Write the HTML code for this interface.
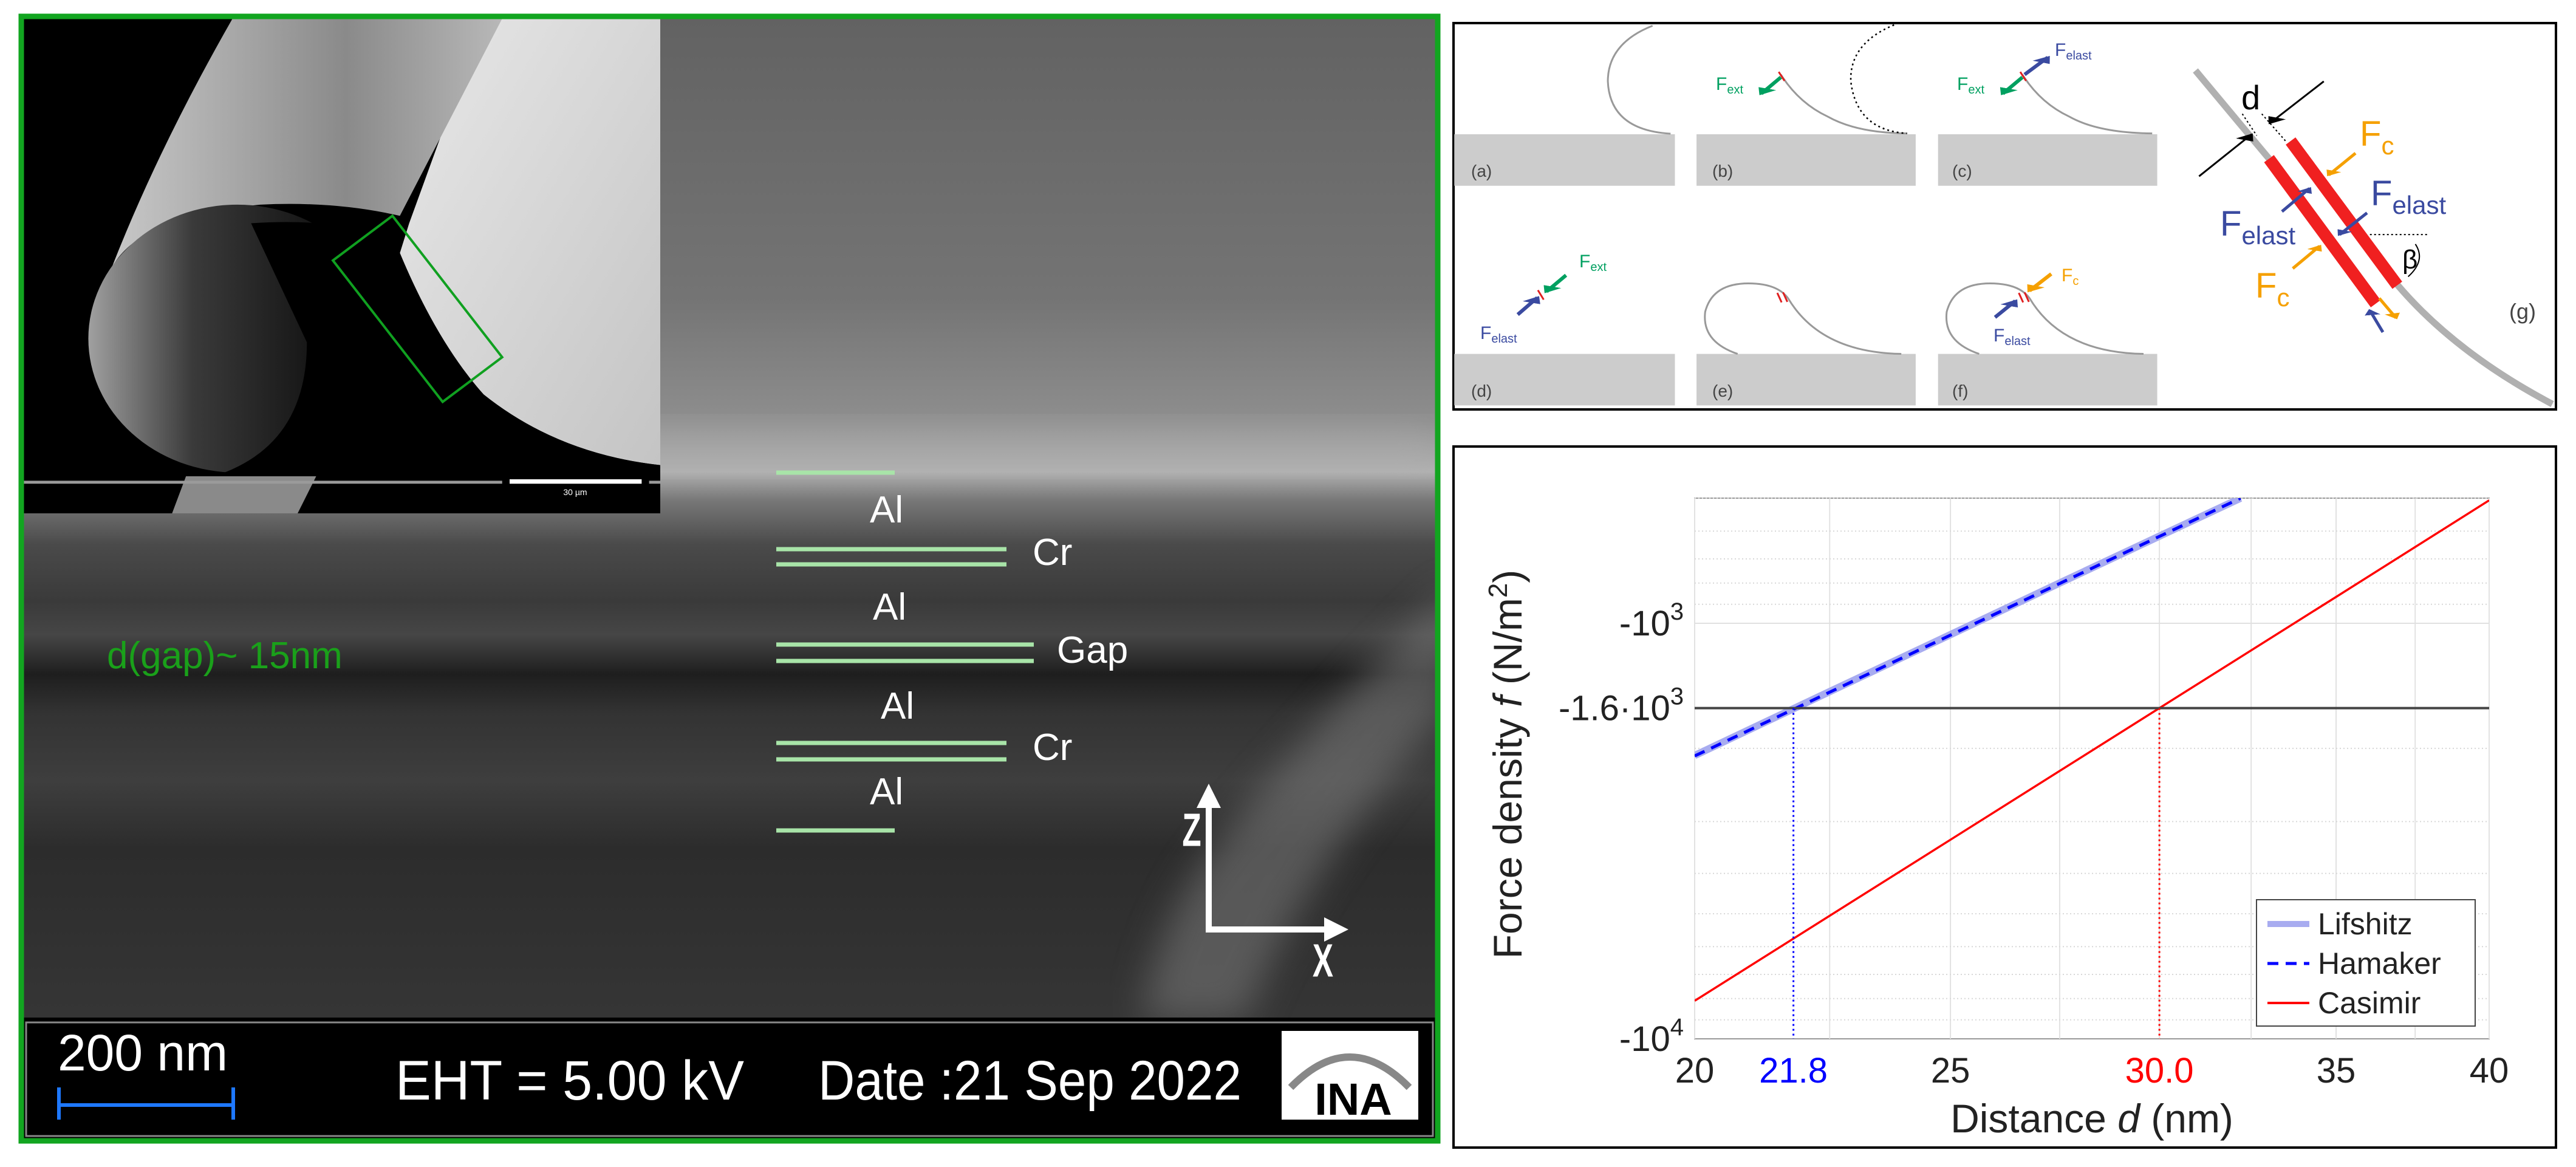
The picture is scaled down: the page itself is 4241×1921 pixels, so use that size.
<!DOCTYPE html>
<html><head><meta charset="utf-8">
<style>
html,body{margin:0;padding:0;background:#fff;}
svg{display:block;}
text{font-family:"Liberation Sans",sans-serif;}
</style></head>
<body>
<svg id="root" width="4241" height="1921" viewBox="0 0 4241 1921" xmlns="http://www.w3.org/2000/svg">
<defs>
  <linearGradient id="semBg" x1="0" y1="0" x2="0" y2="1">
    <stop offset="0" stop-color="#626262"/>
    <stop offset="0.25" stop-color="#747474"/>
    <stop offset="0.36" stop-color="#8e8e8e"/>
    <stop offset="0.405" stop-color="#b0b0b0"/>
    <stop offset="0.43" stop-color="#787878"/>
    <stop offset="0.47" stop-color="#4a4a4a"/>
    <stop offset="0.52" stop-color="#3a3a3a"/>
    <stop offset="0.55" stop-color="#464646"/>
    <stop offset="0.585" stop-color="#1e1e1e"/>
    <stop offset="0.62" stop-color="#333"/>
    <stop offset="0.68" stop-color="#3e3e3e"/>
    <stop offset="0.74" stop-color="#2c2c2c"/>
    <stop offset="1" stop-color="#3c3c3c"/>
  </linearGradient>
  <linearGradient id="rollRim" x1="0" y1="0" x2="1" y2="0">
    <stop offset="0" stop-color="#a0a0a0"/>
    <stop offset="0.35" stop-color="#3a3a3a"/>
    <stop offset="1" stop-color="#000"/>
  </linearGradient>
  <linearGradient id="sheetTop" x1="0" y1="0" x2="1" y2="0">
    <stop offset="0" stop-color="#c8c8c8"/>
    <stop offset="0.6" stop-color="#8a8a8a"/>
    <stop offset="1" stop-color="#b8b8b8"/>
  </linearGradient>
  <linearGradient id="sheetRight" x1="0" y1="0" x2="1" y2="1">
    <stop offset="0" stop-color="#e8e8e8"/>
    <stop offset="1" stop-color="#c4c4c4"/>
  </linearGradient>
  <filter id="blur30"><feGaussianBlur stdDeviation="30"/></filter>
  <marker id="ahBlack" markerWidth="8" markerHeight="8" refX="7" refY="4" orient="auto" markerUnits="strokeWidth"><path d="M0,0 L8,4 L0,8 z" fill="#000"/></marker>
  <marker id="ahGreen" markerWidth="4" markerHeight="4" refX="3" refY="2" orient="auto" markerUnits="strokeWidth"><path d="M0,0 L4,2 L0,4 z" fill="#00a060"/></marker>
  <marker id="ahBlue" markerWidth="4" markerHeight="4" refX="3" refY="2" orient="auto" markerUnits="strokeWidth"><path d="M0,0 L4,2 L0,4 z" fill="#3a4aa0"/></marker>
  <marker id="ahOrange" markerWidth="4" markerHeight="4" refX="3" refY="2" orient="auto" markerUnits="strokeWidth"><path d="M0,0 L4,2 L0,4 z" fill="#f5a000"/></marker>
  <marker id="ahWhite" markerWidth="4" markerHeight="4" refX="3" refY="2" orient="auto" markerUnits="strokeWidth"><path d="M0,0 L4,2 L0,4 z" fill="#fff"/></marker>
  <clipPath id="plotClip"><rect x="2790" y="820" width="1308" height="890"/></clipPath>
  <clipPath id="insetClip"><rect x="38" y="31" width="1049" height="814"/></clipPath>
  <clipPath id="semClip"><rect x="35" y="27" width="2332" height="1851"/></clipPath>
</defs>

<!-- ============ LEFT SEM PANEL ============ -->
<g>
  <rect x="35" y="27" width="2332" height="1851" fill="url(#semBg)"/>
  <g clip-path="url(#semClip)">
    <path d="M2400,960 Q2150,1200 1980,1420 Q1900,1540 1880,1680 L2050,1680 Q2150,1420 2400,1150 Z" fill="#7a7a7a" opacity="0.55" filter="url(#blur30)"/>
    <rect x="35" y="690" width="2332" height="90" fill="#b8b8b8" opacity="0.25" filter="url(#blur30)"/>
  </g>

  <!-- inset -->
  <g clip-path="url(#insetClip)">
    <rect x="38" y="31" width="1049" height="814" fill="#000"/>
    <g transform="scale(1.531,1.225)">
      <path d="M520,25 L710,25 L710,625 Q600,610 520,530 Q470,460 430,340 L440,300 Z" fill="url(#sheetRight)"/>
      <path d="M250,25 L540,25 L430,290 Q360,270 280,275 Q150,290 120,360 Q170,200 250,25 Z" fill="url(#sheetTop)"/>
      <ellipse cx="255" cy="455" rx="160" ry="180" fill="url(#rollRim)"/>
      <path d="M270,300 Q390,290 430,340 Q470,460 520,530 Q600,610 710,625 L710,690 L25,690 L25,600 Q150,640 230,640 Q330,600 330,460 Z" fill="#000"/>
      <path d="M200,640 L340,640 L320,690 L185,690 Z" fill="#8a8a8a"/>
      <rect x="25" y="646" width="685" height="4" fill="#9a9a9a"/>
      <rect x="540" y="636" width="158" height="37" fill="#000"/>
      <rect x="548" y="644" width="142" height="6" fill="#fff"/>
      <path d="M358,350 L422,290 L540,480 L476,540 Z" fill="none" stroke="#10a020" stroke-width="4" vector-effect="non-scaling-stroke"/>
    </g>
    <text x="947" y="815" font-size="14" fill="#fff" text-anchor="middle">30 µm</text>
  </g>

  <!-- layer lines -->
  <g stroke="#a8e4a8" stroke-width="7">
    <line x1="1278" y1="778" x2="1473" y2="778"/>
    <line x1="1278" y1="904" x2="1657" y2="904"/>
    <line x1="1278" y1="929" x2="1657" y2="929"/>
    <line x1="1278" y1="1061" x2="1702" y2="1061"/>
    <line x1="1278" y1="1088" x2="1702" y2="1088"/>
    <line x1="1278" y1="1223" x2="1657" y2="1223"/>
    <line x1="1278" y1="1250" x2="1657" y2="1250"/>
    <line x1="1278" y1="1367" x2="1473" y2="1367"/>
  </g>
  <g fill="#fff" font-size="62">
    <text x="1432" y="860">Al</text>
    <text x="1700" y="930">Cr</text>
    <text x="1437" y="1020">Al</text>
    <text x="1740" y="1091">Gap</text>
    <text x="1450" y="1183">Al</text>
    <text x="1700" y="1251">Cr</text>
    <text x="1432" y="1324">Al</text>
  </g>
  <text x="176" y="1100" font-size="62" fill="#1aa01a">d(gap)~ 15nm</text>

  <!-- axes glyph -->
  <g>
    <line x1="1990" y1="1531" x2="1990" y2="1300" stroke="#fff" stroke-width="10" marker-end="url(#ahWhite)"/>
    <line x1="1985" y1="1530" x2="2210" y2="1530" stroke="#fff" stroke-width="10" marker-end="url(#ahWhite)"/>
    <text x="1962" y="1388" font-size="64" fill="#fff" text-anchor="middle" font-weight="bold" transform="translate(1962,1366) scale(0.8,1.2) translate(-1962,-1366)">Z</text>
    <text x="2178" y="1603" font-size="64" fill="#fff" text-anchor="middle" font-weight="bold" transform="translate(2178,1580) scale(0.8,1.2) translate(-2178,-1580)">X</text>
  </g>

  <!-- info bar -->
  <g>
    <rect x="35" y="1675" width="2332" height="203" fill="#000"/>
    <rect x="43" y="1683" width="2316" height="187" fill="none" stroke="#888" stroke-width="3"/>
    <text x="95" y="1762" font-size="84" fill="#fff" textLength="280" lengthAdjust="spacingAndGlyphs">200 nm</text>
    <g stroke="#1e78ff" stroke-width="6">
      <line x1="95" y1="1819" x2="386" y2="1819"/>
      <line x1="97" y1="1790" x2="97" y2="1843"/>
      <line x1="384" y1="1790" x2="384" y2="1843"/>
    </g>
    <text x="651" y="1810" font-size="92" fill="#fff" textLength="574" lengthAdjust="spacingAndGlyphs">EHT =  5.00 kV</text>
    <text x="1347" y="1810" font-size="92" fill="#fff" textLength="697" lengthAdjust="spacingAndGlyphs">Date :21 Sep 2022</text>
    <g>
      <rect x="2110" y="1697" width="225" height="146" fill="#fff"/>
      <path d="M2125,1790 Q2222,1690 2320,1790" fill="none" stroke="#888" stroke-width="12"/>
      <text x="2228" y="1835" font-size="74" font-weight="bold" fill="#000" text-anchor="middle">INA</text>
    </g>
  </g>
  <rect x="35" y="27" width="2332" height="1851" fill="none" stroke="#12a520" stroke-width="9"/>
</g>

<!-- ============ TOP RIGHT SCHEMATIC ============ -->
<g>
  <rect x="2393" y="38" width="1815" height="636" fill="#fff" stroke="#000" stroke-width="4"/>
  <g transform="translate(2380,0) scale(1.187,0.4464)">
    <g fill="#cccccc">
      <rect x="12" y="495" width="306" height="190"/>
      <rect x="348" y="495" width="304" height="190"/>
      <rect x="683" y="495" width="304" height="190"/>
      <rect x="12" y="1305" width="306" height="190"/>
      <rect x="348" y="1305" width="304" height="190"/>
      <rect x="683" y="1305" width="304" height="190"/>
    </g>
    <g fill="none" stroke="#999" stroke-width="3">
      <path vector-effect="non-scaling-stroke" d="M287,95 Q225,160 225,300 Q228,480 312,493"/>
      <path vector-effect="non-scaling-stroke" d="M465,275 Q490,380 530,430 Q570,490 640,492"/>
      <path vector-effect="non-scaling-stroke" d="M800,275 Q825,380 865,430 Q905,490 980,492"/>
      <path vector-effect="non-scaling-stroke" d="M405,1305 Q355,1260 360,1150 Q370,1045 420,1045 Q460,1045 475,1100 Q520,1300 632,1305"/>
      <path vector-effect="non-scaling-stroke" d="M740,1305 Q690,1260 695,1150 Q705,1045 755,1045 Q795,1045 810,1100 Q855,1300 968,1305"/>
    </g>
    <path vector-effect="non-scaling-stroke" d="M622,92 Q560,160 562,300 Q570,480 640,492" fill="none" stroke="#000" stroke-width="2.5" stroke-dasharray="3 5"/>
    <g stroke="#e02020" stroke-width="3">
      <line vector-effect="non-scaling-stroke" x1="462" y1="265" x2="470" y2="298"/>
      <line vector-effect="non-scaling-stroke" x1="797" y1="265" x2="805" y2="298"/>
      <line vector-effect="non-scaling-stroke" x1="128" y1="1070" x2="136" y2="1105"/>
      <line vector-effect="non-scaling-stroke" x1="460" y1="1080" x2="466" y2="1115"/>
      <line vector-effect="non-scaling-stroke" x1="468" y1="1078" x2="474" y2="1113"/>
      <line vector-effect="non-scaling-stroke" x1="795" y1="1080" x2="801" y2="1115"/>
      <line vector-effect="non-scaling-stroke" x1="803" y1="1078" x2="809" y2="1113"/>
    </g>
    <g stroke-width="6">
      <line vector-effect="non-scaling-stroke" x1="465" y1="285" x2="438" y2="345" stroke="#00a060" marker-end="url(#ahGreen)"/>
      <line vector-effect="non-scaling-stroke" x1="800" y1="285" x2="773" y2="345" stroke="#00a060" marker-end="url(#ahGreen)"/>
      <line vector-effect="non-scaling-stroke" x1="803" y1="275" x2="835" y2="212" stroke="#3a4aa0" marker-end="url(#ahBlue)"/>
      <line vector-effect="non-scaling-stroke" x1="167" y1="1015" x2="140" y2="1075" stroke="#00a060" marker-end="url(#ahGreen)"/>
      <line vector-effect="non-scaling-stroke" x1="100" y1="1160" x2="127" y2="1098" stroke="#3a4aa0" marker-end="url(#ahBlue)"/>
      <line vector-effect="non-scaling-stroke" x1="840" y1="1010" x2="810" y2="1072" stroke="#f5a000" marker-end="url(#ahOrange)"/>
      <line vector-effect="non-scaling-stroke" x1="762" y1="1170" x2="790" y2="1110" stroke="#3a4aa0" marker-end="url(#ahBlue)"/>
    </g>
    <g>
      <path vector-effect="non-scaling-stroke" d="M1040,260 L1142,585" stroke="#b0b0b0" stroke-width="11" fill="none"/>
      <path vector-effect="non-scaling-stroke" d="M1320,1050 Q1400,1300 1535,1490" stroke="#b0b0b0" stroke-width="11" fill="none"/>
      <line vector-effect="non-scaling-stroke" x1="1142" y1="585" x2="1290" y2="1120" stroke="#f02020" stroke-width="20"/>
      <line vector-effect="non-scaling-stroke" x1="1172" y1="520" x2="1320" y2="1052" stroke="#f02020" stroke-width="20"/>
      <line vector-effect="non-scaling-stroke" x1="1105" y1="420" x2="1125" y2="500" stroke="#000" stroke-width="2" stroke-dasharray="3 4"/>
      <line vector-effect="non-scaling-stroke" x1="1132" y1="420" x2="1165" y2="520" stroke="#000" stroke-width="2" stroke-dasharray="3 4"/>
      <line vector-effect="non-scaling-stroke" x1="1045" y1="650" x2="1118" y2="495" stroke="#000" stroke-width="3" marker-end="url(#ahBlack)"/>
      <line vector-effect="non-scaling-stroke" x1="1218" y1="300" x2="1143" y2="455" stroke="#000" stroke-width="3" marker-end="url(#ahBlack)"/>
      <line vector-effect="non-scaling-stroke" x1="1262" y1="565" x2="1225" y2="645" stroke="#f5a000" stroke-width="5" marker-end="url(#ahOrange)"/>
      <line vector-effect="non-scaling-stroke" x1="1160" y1="780" x2="1198" y2="695" stroke="#3a4aa0" stroke-width="5" marker-end="url(#ahBlue)"/>
      <line vector-effect="non-scaling-stroke" x1="1278" y1="785" x2="1240" y2="865" stroke="#3a4aa0" stroke-width="5" marker-end="url(#ahBlue)"/>
      <line vector-effect="non-scaling-stroke" x1="1175" y1="990" x2="1212" y2="908" stroke="#f5a000" stroke-width="5" marker-end="url(#ahOrange)"/>
      <line vector-effect="non-scaling-stroke" x1="1300" y1="1225" x2="1282" y2="1145" stroke="#3a4aa0" stroke-width="5" marker-end="url(#ahBlue)"/>
      <line vector-effect="non-scaling-stroke" x1="1295" y1="1100" x2="1318" y2="1172" stroke="#f5a000" stroke-width="5" marker-end="url(#ahOrange)"/>
      <line vector-effect="non-scaling-stroke" x1="1282" y1="865" x2="1362" y2="865" stroke="#000" stroke-width="2" stroke-dasharray="3 4"/>
      <path vector-effect="non-scaling-stroke" d="M1345,900 Q1360,960 1335,1020" fill="none" stroke="#000" stroke-width="2"/>
    </g>
  </g>
  <g font-size="28" fill="#444">
    <text x="2422" y="291">(a)</text>
    <text x="2819" y="291">(b)</text>
    <text x="3214" y="291">(c)</text>
    <text x="2422" y="653">(d)</text>
    <text x="2819" y="653">(e)</text>
    <text x="3214" y="653">(f)</text>
    <text x="4131" y="525" font-size="36">(g)</text>
  </g>
  <g font-size="30">
    <text x="2825" y="148" fill="#00a060">F<tspan font-size="20" dy="6">ext</tspan></text>
    <text x="3222" y="148" fill="#00a060">F<tspan font-size="20" dy="6">ext</tspan></text>
    <text x="3383" y="92" fill="#3a4aa0">F<tspan font-size="20" dy="6">elast</tspan></text>
    <text x="2600" y="440" fill="#00a060">F<tspan font-size="20" dy="6">ext</tspan></text>
    <text x="2437" y="558" fill="#3a4aa0">F<tspan font-size="20" dy="6">elast</tspan></text>
    <text x="3394" y="463" fill="#f5a000">F<tspan font-size="20" dy="6">c</tspan></text>
    <text x="3282" y="562" fill="#3a4aa0">F<tspan font-size="20" dy="6">elast</tspan></text>
    <text x="3690" y="180" font-size="56" fill="#000">d</text>
    <text x="3885" y="240" font-size="58" fill="#f5a000">F<tspan font-size="42" dy="14">c</tspan></text>
    <text x="3655" y="388" font-size="58" fill="#3a4aa0">F<tspan font-size="42" dy="14">elast</tspan></text>
    <text x="3903" y="338" font-size="58" fill="#3a4aa0">F<tspan font-size="42" dy="14">elast</tspan></text>
    <text x="3713" y="490" font-size="58" fill="#f5a000">F<tspan font-size="42" dy="14">c</tspan></text>
    <text x="3955" y="442" font-size="44" fill="#000">β</text>
  </g>
</g>

<!-- ============ BOTTOM RIGHT CHART ============ -->
<g id="chart">
  <rect x="2393" y="735" width="1815" height="1154" fill="#fff" stroke="#000" stroke-width="4"/>
  <rect x="2790" y="820" width="1308" height="890" fill="#fff" stroke="#999" stroke-width="2"/>
  <g id="grid"></g>
  <g id="series" clip-path="url(#plotClip)"></g>
  <g id="xticks"></g>
  <g id="yticks"></g>
  <text x="3444" y="1864" font-size="66" fill="#222" text-anchor="middle" font-family="DejaVu Sans, sans-serif">Distance  <tspan font-style="italic">d</tspan> (nm)</text>
  <text transform="translate(2505,1258) rotate(-90)" font-size="66" fill="#222" text-anchor="middle" font-family="DejaVu Sans, sans-serif">Force density  <tspan font-style="italic">f</tspan> (N/m<tspan font-size="44" dy="-24">2</tspan><tspan dy="24">)</tspan></text>
  <g>
    <rect x="3715" y="1481" width="360" height="208" fill="#fff" stroke="#444" stroke-width="2"/>
    <line x1="3733" y1="1521" x2="3802" y2="1521" stroke="#a8acf0" stroke-width="10"/>
    <text x="3816" y="1538" font-size="50" fill="#222">Lifshitz</text>
    <line x1="3733" y1="1586" x2="3802" y2="1586" stroke="#0000ff" stroke-width="5" stroke-dasharray="18 12"/>
    <text x="3816" y="1603" font-size="50" fill="#222">Hamaker</text>
    <line x1="3733" y1="1651" x2="3802" y2="1651" stroke="#ff0000" stroke-width="4"/>
    <text x="3816" y="1668" font-size="50" fill="#222">Casimir</text>
  </g>
</g>

<script>
// ---- chart data ----
const hamakerD = [20, 22.5, 25, 27.5, 30, 32.2];
const hamakerF = [-2086, -1465, -1068, -802, -618, -500];
const lifshitzD = [20, 22.5, 25, 27.5, 30, 32.2];
const lifshitzF = [-2080, -1460, -1065, -800, -617, -500];
const casimirD = [20, 25, 30, 35, 40];
const casimirF = [-8100, -3318, -1600, -864, -506];
const thresholdF = -1600;
const crossD = [21.8, 30.0];
const crossLabels = ["21.8", "30.0"];
const crossColors = ["#0000ff", "#ff0000"];
const xTickVals = [20, 25, 35, 40];
const xTickLabels = ["20", "25", "35", "40"];
const xGridVals = [20, 22.5, 25, 27.5, 30, 32.5, 35, 37.5, 40];
const yMinorVals = [-500, -600, -700, -800, -900, -2000, -3000, -4000, -5000, -6000, -7000, -8000, -9000];
const yMajorVals = [-1000];
const yTickVals = [-1000, -1600, -10000];
const yTickBases = ["-10", "-1.6·10", "-10"];
const yTickExps = ["3", "3", "4"];

// ---- axes (log-log on |f|) ----
const X0 = 2790, X1 = 4098, DMIN = 20, DMAX = 40;
const YREF = 1026, YDEC = 684;
function xs(d){ return X0 + (X1 - X0) * Math.log(d / DMIN) / Math.log(DMAX / DMIN); }
function ys(f){ return YREF + YDEC * Math.log10(Math.abs(f) / 1000); }
const NS = "http://www.w3.org/2000/svg";
function mk(tag, attrs, parent){
  const e = document.createElementNS(NS, tag);
  for (const k in attrs) e.setAttribute(k, attrs[k]);
  parent.appendChild(e);
  return e;
}
const grid = document.getElementById('grid');
const series = document.getElementById('series');
const xt = document.getElementById('xticks');
const yt = document.getElementById('yticks');

xGridVals.forEach(d => {
  const l = mk('line', {x1: xs(d), x2: xs(d), y1: 820, y2: 1710, stroke: '#e2e2e2', 'stroke-width': 2}, grid);
  
  
});
yMinorVals.forEach(f => {
  const l = mk('line', {x1: X0, x2: X1, y1: ys(f), y2: ys(f), stroke: '#d8d8d8', 'stroke-width': 2, 'stroke-dasharray': '2 4'}, grid);
  
  
});
yMajorVals.forEach(f => {
  const l = mk('line', {x1: X0, x2: X1, y1: ys(f), y2: ys(f), stroke: '#e0e0e0', 'stroke-width': 2}, grid);
  
  
});

function pts(D, F){ return D.map((d, i) => xs(d).toFixed(1) + ',' + ys(F[i]).toFixed(1)).join(' '); }

const lif = mk('polyline', {points: pts(lifshitzD, lifshitzF), fill: 'none', stroke: '#a8acf0', 'stroke-width': 12}, series);


const ham = mk('polyline', {points: pts(hamakerD, hamakerF), fill: 'none', stroke: '#0000ff', 'stroke-width': 5, 'stroke-dasharray': '18 12'}, series);


const cas = mk('polyline', {points: pts(casimirD, casimirF), fill: 'none', stroke: '#ff0000', 'stroke-width': 3.5}, series);


const thr = mk('line', {x1: X0, x2: X1, y1: ys(thresholdF), y2: ys(thresholdF), stroke: '#444', 'stroke-width': 4}, series);



crossD.forEach((d, i) => {
  const v = mk('line', {x1: xs(d), x2: xs(d), y1: ys(thresholdF), y2: 1710, stroke: crossColors[i], 'stroke-width': 3, 'stroke-dasharray': '3 5'}, series);
  
  
  const t = mk('text', {x: xs(d), y: 1782, 'font-size': 58, fill: crossColors[i], 'text-anchor': 'middle'}, xt);
  
  
  t.textContent = crossLabels[i];
});
xTickVals.forEach((d, i) => {
  const t = mk('text', {x: xs(d), y: 1782, 'font-size': 58, fill: '#222', 'text-anchor': 'middle'}, xt);
  
  
  t.textContent = xTickLabels[i];
});

yTickVals.forEach((f, i) => {
  const t = mk('text', {x: 2772, y: ys(f) + 20, 'font-size': 58, fill: '#222', 'text-anchor': 'end'}, yt);
  
  
  const b = mk('tspan', {}, t);
  b.textContent = yTickBases[i];
  const e = mk('tspan', {'font-size': 40, dy: -26}, t);
  e.textContent = yTickExps[i];
});
</script>
</svg>
</body></html>
